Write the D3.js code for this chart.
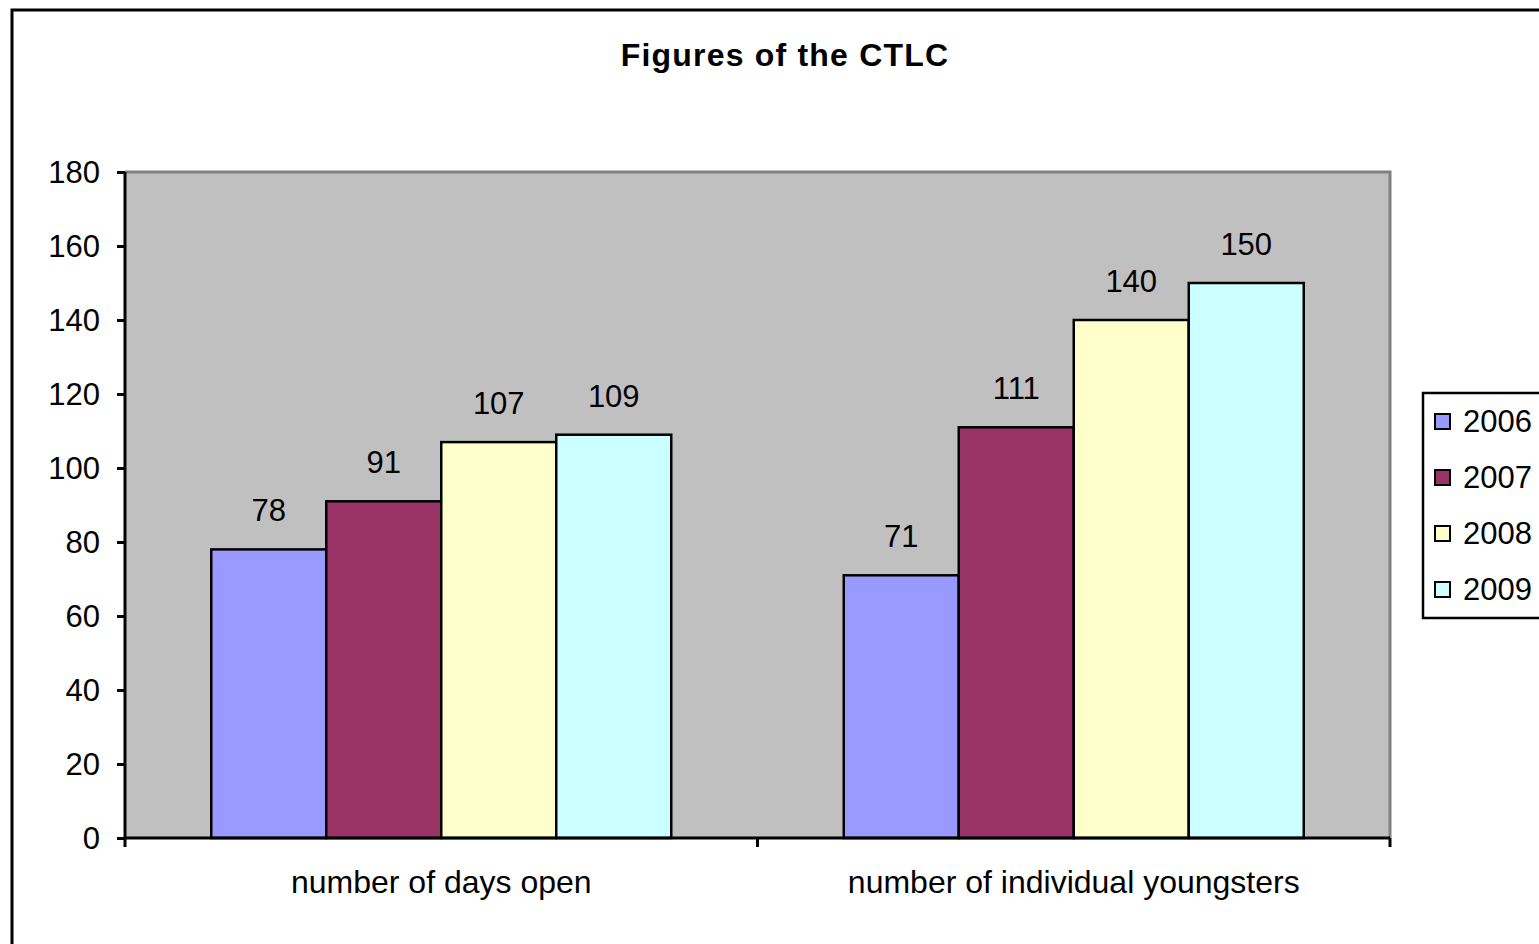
<!DOCTYPE html>
<html><head><meta charset="utf-8">
<script src="https://cdn.jsdelivr.net/npm/d3@7"></script>
<style>body{margin:0;background:#fff}svg{display:block}</style>
</head><body>
<svg id="c" width="1539" height="944"></svg>
<script>
const categories = ["number of days open", "number of individual youngsters"];
const years = ["2006", "2007", "2008", "2009"];
const values2006 = [78, 71];
const values2007 = [91, 111];
const values2008 = [107, 140];
const values2009 = [109, 150];
const yTicks = [0, 20, 40, 60, 80, 100, 120, 140, 160, 180];
const colors = ["#9999FF", "#993366", "#FFFFCC", "#CCFFFF"];
const series = [values2006, values2007, values2008, values2009];

const svg = d3.select("#c");
const font = "'Liberation Sans', Arial, sans-serif";

// outer frame
svg.append("rect").attr("x", 12).attr("y", 10).attr("width", 1560).attr("height", 980)
  .attr("fill", "#fff").attr("stroke", "#000").attr("stroke-width", 3);

const L = 125, R = 1390, T = 172, B = 838;
const y = d3.scaleLinear().domain([0, 180]).range([B, T]);
const x0 = d3.scaleBand().domain(categories).range([L, R]).paddingInner(0).paddingOuter(0);
// category width = 5.5 bar widths, outer offset 0.75 bar widths (Excel gap width 150%)
const x1 = d3.scaleBand().domain(years)
  .range([x0.bandwidth() * 0.75 / 5.5, x0.bandwidth() * 4.75 / 5.5]).padding(0);

// plot area
svg.append("rect").attr("x", L).attr("y", T).attr("width", R - L).attr("height", B - T)
  .attr("fill", "#C0C0C0");
svg.append("path").attr("d", `M${L},${T}H${R}V${B}`).attr("fill", "none")
  .attr("stroke", "#808080").attr("stroke-width", 3);

// title
svg.append("text").attr("x", 785).attr("y", 66).attr("text-anchor", "middle")
  .attr("font-family", font).attr("letter-spacing", 1.2)
  .attr("font-weight", "bold").attr("font-size", 32).text("Figures of the CTLC");

// bars
const g = svg.append("g");
categories.forEach((c, ci) => {
  years.forEach((yr, si) => {
    const v = series[si][ci];
    g.append("rect")
      .attr("x", x0(c) + x1(yr)).attr("y", y(v))
      .attr("width", x1.bandwidth()).attr("height", B - y(v))
      .attr("fill", colors[si]).attr("stroke", "#000").attr("stroke-width", 2.5);
    g.append("text")
      .attr("x", x0(c) + x1(yr) + x1.bandwidth() / 2).attr("y", y(v) - 28)
      .attr("text-anchor", "middle").attr("font-family", font).attr("font-size", 31)
      .text(v);
  });
});

// y axis
const yAxis = d3.axisLeft(y).tickValues(yTicks).tickSize(8).tickPadding(17);
const ya = svg.append("g").attr("transform", `translate(${L},0)`).call(yAxis);
ya.select(".domain").attr("stroke", "#000").attr("stroke-width", 3).attr("d", `M0,${T}V${B}`);
ya.selectAll(".tick line").attr("stroke", "#000").attr("stroke-width", 3);
ya.selectAll(".tick text").attr("font-family", font).attr("font-size", 31).attr("fill", "#000").attr("dy", "0.35em");

// x axis
const xAxis = d3.axisBottom(x0).tickSize(0).tickPadding(32);
const xa = svg.append("g").attr("transform", `translate(0,${B})`).call(xAxis);
xa.select(".domain").attr("stroke", "#000").attr("stroke-width", 3).attr("d", `M${L},0H${R}`);
xa.selectAll(".tick text").attr("font-family", font).attr("font-size", 32).attr("fill", "#000").attr("dy", "0.71em");
const bounds = [L, ...categories.map(c => x0(c) + x0.bandwidth())];
xa.selectAll(".sep").data(bounds).enter().append("line")
  .attr("x1", d => d).attr("x2", d => d).attr("y1", 0).attr("y2", 9)
  .attr("stroke", "#000").attr("stroke-width", 3);

// legend
const lg = svg.append("g");
lg.append("rect").attr("x", 1423).attr("y", 393).attr("width", 140).attr("height", 225)
  .attr("fill", "#fff").attr("stroke", "#000").attr("stroke-width", 2.5);
years.forEach((yr, i) => {
  const cy = 421 + i * 56;
  lg.append("rect").attr("x", 1435).attr("y", cy - 7).attr("width", 15).attr("height", 15)
    .attr("fill", colors[i]).attr("stroke", "#000").attr("stroke-width", 2);
  lg.append("text").attr("x", 1463).attr("y", cy).attr("dy", "0.36em")
    .attr("font-family", font).attr("font-size", 31).text(yr);
});
</script>
</body></html>
